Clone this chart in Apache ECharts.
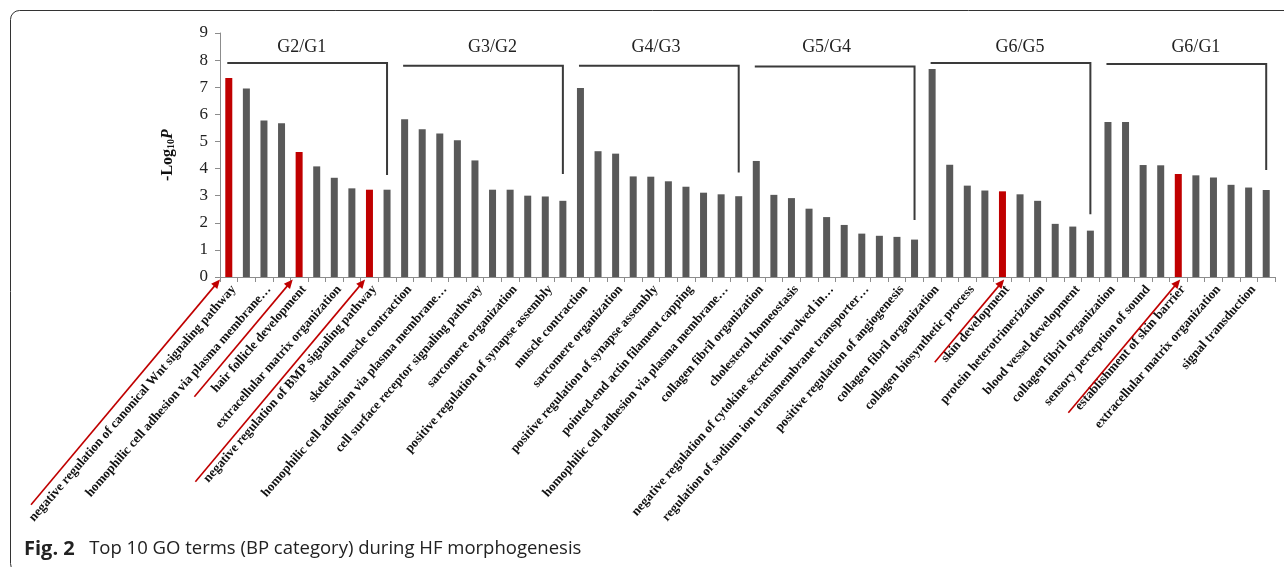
<!DOCTYPE html>
<html>
<head>
<meta charset="utf-8">
<script src="https://cdn.jsdelivr.net/npm/echarts@6/dist/echarts.min.js"></script>
<style>
html,body{margin:0;padding:0;background:#fff;}
#main{width:1284px;height:567px;}
</style>
</head>
<body>
<div id="main"></div>
<script>
// ---- data ----
const categories = [
  "negative regulation of canonical Wnt signaling pathway", "",
  "homophilic cell adhesion via plasma membrane…", "",
  "hair follicle development", "",
  "extracellular matrix organization", "",
  "negative regulation of BMP signaling pathway", "",
  "skeletal muscle contraction", "",
  "homophilic cell adhesion via plasma membrane…", "",
  "cell surface receptor signaling pathway", "",
  "sarcomere organization", "",
  "positive regulation of synapse assembly", "",
  "muscle contraction", "",
  "sarcomere organization", "",
  "positive regulation of synapse assembly", "",
  "pointed-end actin filament capping", "",
  "homophilic cell adhesion via plasma membrane…", "",
  "collagen fibril organization", "",
  "cholesterol homeostasis", "",
  "negative regulation of cytokine secretion involved in…", "",
  "regulation of sodium ion transmembrane transporter…", "",
  "positive regulation of angiogenesis", "",
  "collagen fibril organization", "",
  "collagen biosynthetic process", "",
  "skin development", "",
  "protein heterotrimerization", "",
  "blood vessel development", "",
  "collagen fibril organization", "",
  "sensory perception of sound", "",
  "establishment of skin barrier", "",
  "extracellular matrix organization", "",
  "signal transduction", ""
];
const values = [
  7.34, 6.95, 5.77, 5.67, 4.61, 4.08, 3.66, 3.27, 3.22, 3.22,
  5.82, 5.45, 5.29, 5.04, 4.30, 3.22, 3.22, 3.00, 2.97, 2.81,
  6.97, 4.64, 4.55, 3.71, 3.70, 3.53, 3.33, 3.11, 3.05, 2.98,
  4.28, 3.03, 2.91, 2.52, 2.21, 1.92, 1.60, 1.52, 1.48, 1.38,
  7.67, 4.14, 3.37, 3.19, 3.16, 3.05, 2.81, 1.96, 1.86, 1.71,
  5.72, 5.72, 4.13, 4.12, 3.80, 3.75, 3.67, 3.40, 3.30, 3.21
];
const highlighted = [0, 4, 8, 44, 54];
const groupLabels = ["G2/G1", "G3/G2", "G4/G3", "G5/G4", "G6/G5", "G6/G1"];
const groupStart = [0, 10, 20, 30, 40, 50];
const groupEnd = [9, 19, 29, 39, 49, 59];
const bracketLevel = [7.89, 7.79, 7.79, 7.76, 7.89, 7.86];
const bracketDrop = [3.76, 3.80, 3.85, 2.10, 2.31, 3.95];
const groupLabelPos = [4.15, 15.0, 24.3, 34.0, 45.0, 55.0];
const groupLabelLevel = 8.49;
const yTicks = [0, 1, 2, 3, 4, 5, 6, 7, 8, 9];
// arrow annotations (pointing at highlighted bars)
const arrowLen = [294, 153, 264, 108, 174];
const arrowShift = [-8.8, -6.4, -4.4, 1.7, 1.9];

// ---- chart ----
const RED = '#C00000', GRAY = '#595959';
const chart = echarts.init(document.getElementById('main'), null, {renderer: 'canvas'});
const option = {
  animation: false,
  backgroundColor: '#fff',
  grid: {left: 220, right: 9, top: 33, bottom: 290, containLabel: false},
  xAxis: {
    type: 'category',
    data: categories,
    boundaryGap: true,
    axisLine: {show: true, lineStyle: {color: '#8c8c8c', width: 1}},
    axisTick: {show: true, interval: 0, length: 5, lineStyle: {color: '#8c8c8c'}},
    axisLabel: {
      interval: 1, rotate: 49, margin: 6, verticalAlign: 'top', lineHeight: 13,
      fontFamily: 'Liberation Serif', fontWeight: 'bold', fontSize: 13, color: '#111'
    }
  },
  yAxis: {
    type: 'value',
    min: yTicks[0], max: yTicks[yTicks.length - 1], interval: 1,
    axisLine: {show: true, lineStyle: {color: '#8c8c8c', width: 1}},
    axisTick: {show: true, length: 5, lineStyle: {color: '#8c8c8c'}},
    splitLine: {show: false},
    axisLabel: {fontFamily: 'Liberation Serif', fontSize: 17, color: '#222', margin: 12},
    name: '{a|-Log}{b|10}{c|P}',
    nameLocation: 'middle',
    nameRotate: 90,
    nameGap: 44,
    nameTextStyle: {
      fontFamily: 'Liberation Serif', fontWeight: 'bold', fontSize: 16, color: '#111',
      rich: {
        a: {fontFamily: 'Liberation Serif', fontWeight: 'bold', fontSize: 16, color: '#111', verticalAlign: 'bottom', lineHeight: 18},
        b: {fontFamily: 'Liberation Serif', fontWeight: 'bold', fontSize: 10, color: '#111', verticalAlign: 'bottom', lineHeight: 14},
        c: {fontFamily: 'Liberation Serif', fontWeight: 'bold', fontStyle: 'italic', fontSize: 16, color: '#111', verticalAlign: 'bottom', lineHeight: 18}
      }
    }
  },
  series: [{
    type: 'bar',
    barWidth: 7,
    data: values.map((v, i) => ({
      value: v,
      itemStyle: {color: highlighted.indexOf(i) >= 0 ? RED : GRAY}
    }))
  }]
};
chart.setOption(option);

function annotate() {
  const p0 = chart.convertToPixel({gridIndex: 0}, [0, 0]);
  const p1 = chart.convertToPixel({gridIndex: 0}, [1, 0]);
  const step = p1[0] - p0[0];
  const xAt = i => p0[0] + i * step;
  const yAt = v => chart.convertToPixel({gridIndex: 0}, [0, v])[1];
  const els = [];
  // frame
  els.push({type: 'rect', shape: {x: 10.5, y: 10.5, width: 1300, height: 562, r: 9},
    style: {fill: null, stroke: '#333', lineWidth: 1}, silent: true, z: 0});
  // brackets
  for (let g = 0; g < groupLabels.length; g++) {
    const xs = xAt(groupStart[g]) - 1.5, xe = xAt(groupEnd[g]);
    const yl = yAt(bracketLevel[g]), yd = yAt(bracketDrop[g]);
    els.push({type: 'polyline', shape: {points: [[xs, yl], [xe, yl], [xe, yd]]},
      style: {stroke: '#3a3a3a', lineWidth: 2, fill: null}, silent: true, z: 10});
    els.push({type: 'text', x: xAt(groupLabelPos[g]), y: yAt(groupLabelLevel),
      style: {text: groupLabels[g], fontFamily: 'Liberation Serif', fontSize: 18, fill: '#222',
        align: 'center', verticalAlign: 'middle'}, silent: true, z: 10});
  }
  // arrows
  const ang = 50 * Math.PI / 180;
  const axisY = yAt(0) + 2.5;
  for (let k = 0; k < highlighted.length; k++) {
    const tx = xAt(highlighted[k]) + arrowShift[k], ty = axisY;
    const sx = tx - arrowLen[k] * Math.cos(ang), sy = ty + arrowLen[k] * Math.sin(ang);
    const ux = Math.cos(ang), uy = -Math.sin(ang);
    const hl = 9, hw = 4;
    const bx = tx - ux * hl, by = ty - uy * hl;
    els.push({type: 'line', shape: {x1: sx, y1: sy, x2: bx + ux * 1, y2: by + uy * 1},
      style: {stroke: RED, lineWidth: 1.6}, silent: true, z: 12});
    els.push({type: 'polygon', shape: {points: [[tx, ty], [bx - uy * hw, by + ux * hw], [bx + uy * hw, by - ux * hw]]},
      style: {fill: RED}, silent: true, z: 12});
  }
  // caption
  els.push({type: 'text', x: 24, y: 549,
    style: {text: '{b|Fig. 2}   Top 10 GO terms (BP category) during HF morphogenesis',
      fontFamily: 'Open Sans', fontSize: 18.5, fill: '#222', verticalAlign: 'middle',
      rich: {b: {fontFamily: 'Open Sans', fontWeight: 'bold', fontSize: 20, fill: '#222'}}},
    silent: true, z: 12});
  chart.setOption({graphic: {elements: els}});
}
annotate();
</script>
</body>
</html>
